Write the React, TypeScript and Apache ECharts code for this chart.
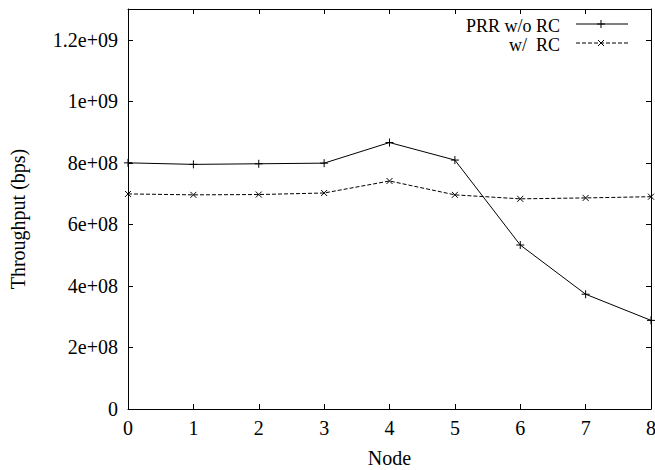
import React, { useEffect, useRef } from "react";
import * as echarts from "echarts";

const nodes = [0, 1, 2, 3, 4, 5, 6, 7, 8];
const withoutRC = [8.0e8, 7.95e8, 7.97e8, 7.99e8, 8.66e8, 8.09e8, 5.33e8, 3.73e8, 2.88e8];
const withRC = [6.99e8, 6.96e8, 6.97e8, 7.02e8, 7.41e8, 6.96e8, 6.83e8, 6.86e8, 6.9e8];
const seriesNames = ["PRR w/o RC", "w/  RC"];
const xTitle = "Node";
const yTitle = "Throughput (bps)";

const FONT = "Liberation Serif";
const FS = 20;
const LFS = 18;
const PLUS = "path://M0,5L10,5M5,0L5,10";
const CROSS = "path://M0,0L10,10M10,0L0,10";

function fmtY(v: number): string {
  if (v === 0) return "0";
  if (Math.abs(v % 2e8) > 1) return "";
  const e = Math.floor(Math.log10(v) + 1e-9);
  const m = Math.round((v / Math.pow(10, e)) * 100) / 100;
  return `${m}e+${String(e).padStart(2, "0")}`;
}

export default function App() {
  const ref = useRef<HTMLDivElement>(null);
  useEffect(() => {
    const chart = echarts.init(ref.current!, null, { renderer: "svg" });
    const tickStyle = { show: true, inside: true, length: 5, lineStyle: { color: "#000", width: 1 } };
    const lineStyle = { color: "#000", width: 1 };
    const lx1 = 576, lx2 = 628, ly1 = 24, ly2 = 43, lxc = 601;
    const txt = { fontFamily: FONT, fontSize: FS, color: "#000" };
    chart.setOption({
      animation: false,
      backgroundColor: "#fff",
      textStyle: { fontFamily: FONT, fontSize: FS, color: "#000" },
      grid: { left: 128, right: 4, top: 9, bottom: 61, containLabel: false, outerBoundsMode: "none" },
      xAxis: [
        {
          type: "value", min: 0, max: 8, interval: 1,
          name: xTitle, nameLocation: "middle", nameGap: 39,
          nameTextStyle: txt,
          axisLine: { show: true, onZero: false, lineStyle },
          axisTick: tickStyle,
          axisLabel: { ...txt, margin: 9 },
          splitLine: { show: false },
        },
        {
          type: "value", min: 0, max: 8, interval: 1, position: "top",
          axisLine: { show: true, onZero: false, lineStyle },
          axisTick: tickStyle,
          axisLabel: { show: false },
          splitLine: { show: false },
        },
      ],
      yAxis: [
        {
          type: "value", min: 0, max: 1.3e9, interval: 2e8,
          name: yTitle, nameLocation: "middle", nameGap: 100,
          nameTextStyle: { ...txt, padding: [0, 20, 0, 0] },
          axisLine: { show: true, onZero: false, lineStyle },
          axisTick: tickStyle,
          axisLabel: { ...txt, margin: 10, formatter: fmtY, showMaxLabel: false },
          splitLine: { show: false },
        },
        {
          type: "value", min: 0, max: 1.3e9, interval: 2e8, position: "right",
          axisLine: { show: true, onZero: false, lineStyle },
          axisTick: tickStyle,
          axisLabel: { show: false },
          splitLine: { show: false },
        },
      ],
      series: [
        {
          name: seriesNames[0], type: "line",
          data: nodes.map((n, i) => [n, withoutRC[i]]),
          lineStyle: { color: "#000", width: 1 },
          symbol: PLUS, symbolSize: 8,
          itemStyle: { color: "none", borderColor: "#000", borderWidth: 1 },
          clip: false,
        },
        {
          name: seriesNames[1], type: "line",
          data: nodes.map((n, i) => [n, withRC[i]]),
          lineStyle: { color: "#000", width: 1, type: [4, 2] },
          symbol: CROSS, symbolSize: 6,
          itemStyle: { color: "none", borderColor: "#000", borderWidth: 1 },
          clip: false,
        },
      ],
      graphic: [
        { type: "text", x: 560, y: ly1 + 1.5, style: { text: seriesNames[0], fontFamily: FONT, fontSize: LFS, fill: "#000", align: "right", verticalAlign: "middle" } },
        { type: "text", x: 560, y: ly2 + 1.5, style: { text: "w/\u00a0\u00a0RC", fontFamily: FONT, fontSize: LFS, fill: "#000", align: "right", verticalAlign: "middle" } },
        { type: "line", shape: { x1: lx1, y1: ly1, x2: lx2, y2: ly1 }, style: { stroke: "#000", lineWidth: 1 } },
        { type: "line", shape: { x1: lxc - 4, y1: ly1, x2: lxc + 4, y2: ly1 }, style: { stroke: "#000", lineWidth: 1 } },
        { type: "line", shape: { x1: lxc, y1: ly1 - 4, x2: lxc, y2: ly1 + 4 }, style: { stroke: "#000", lineWidth: 1 } },
        { type: "line", shape: { x1: lx1, y1: ly2, x2: lx2, y2: ly2 }, style: { stroke: "#000", lineWidth: 1, lineDash: [4, 2] } },
        { type: "line", shape: { x1: lxc - 3, y1: ly2 - 3, x2: lxc + 3, y2: ly2 + 3 }, style: { stroke: "#000", lineWidth: 1 } },
        { type: "line", shape: { x1: lxc + 3, y1: ly2 - 3, x2: lxc - 3, y2: ly2 + 3 }, style: { stroke: "#000", lineWidth: 1 } },
      ],
    });
    return () => chart.dispose();
  }, []);
  return <div ref={ref} style={{ position: "absolute", left: 0, top: 0, width: 655, height: 470 }} />;
}
